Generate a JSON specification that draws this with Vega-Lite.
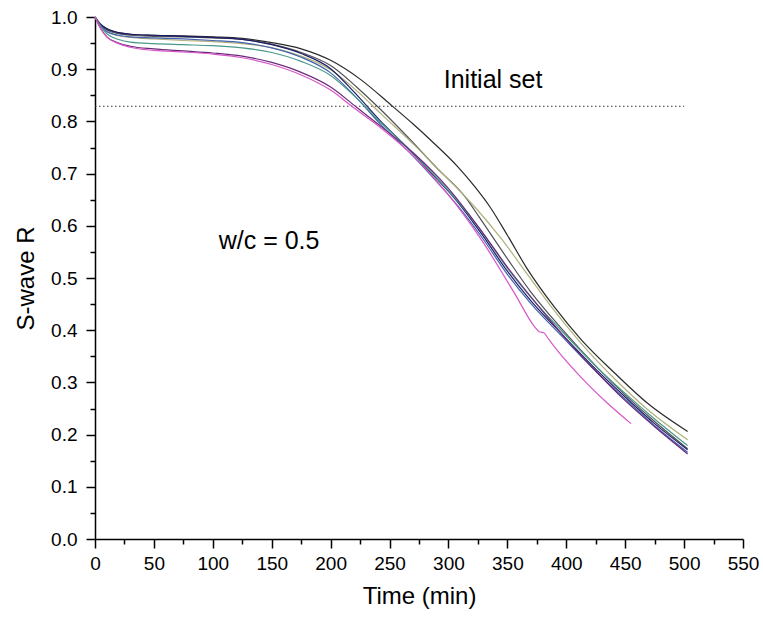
{
  "$schema": "https://vega.github.io/schema/vega-lite/v6.json",
  "width": 648,
  "height": 522,
  "autosize": {"type": "none"},
  "padding": {"left": 95, "top": 17, "right": 20, "bottom": 82},
  "background": "white",
  "config": {
    "view": {"stroke": null},
    "font": "Liberation Sans",
    "axis": {"grid": false, "domainColor": "black", "domainWidth": 1.5, "tickColor": "black", "tickWidth": 1.5, "labelColor": "black", "titleColor": "black", "labelFont": "Liberation Sans", "titleFont": "Liberation Sans", "labelFontSize": 19, "titleFontSize": 24, "titleFontWeight": "normal"}
  },
  "resolve": {"axis": {"x": "independent", "y": "independent"}},
  "datasets": {
    "curves": [
      {"s": "S1", "t": 0, "r": 1.0}, {"s": "S1", "t": 5, "r": 0.986}, {"s": "S1", "t": 10, "r": 0.978}, {"s": "S1", "t": 20, "r": 0.97}, {"s": "S1", "t": 30, "r": 0.967}, {"s": "S1", "t": 50, "r": 0.965}, {"s": "S1", "t": 75, "r": 0.964}, {"s": "S1", "t": 100, "r": 0.962}, {"s": "S1", "t": 125, "r": 0.959}, {"s": "S1", "t": 150, "r": 0.951}, {"s": "S1", "t": 175, "r": 0.939}, {"s": "S1", "t": 200, "r": 0.917}, {"s": "S1", "t": 225, "r": 0.881}, {"s": "S1", "t": 251, "r": 0.832}, {"s": "S1", "t": 270, "r": 0.795}, {"s": "S1", "t": 285, "r": 0.764}, {"s": "S1", "t": 308, "r": 0.713}, {"s": "S1", "t": 322, "r": 0.676}, {"s": "S1", "t": 335, "r": 0.637}, {"s": "S1", "t": 350, "r": 0.582}, {"s": "S1", "t": 367, "r": 0.517}, {"s": "S1", "t": 390, "r": 0.444}, {"s": "S1", "t": 413, "r": 0.381}, {"s": "S1", "t": 441, "r": 0.318}, {"s": "S1", "t": 469, "r": 0.26}, {"s": "S1", "t": 503, "r": 0.206},
      {"s": "S2", "t": 0, "r": 1.0}, {"s": "S2", "t": 5, "r": 0.985}, {"s": "S2", "t": 10, "r": 0.975}, {"s": "S2", "t": 20, "r": 0.968}, {"s": "S2", "t": 30, "r": 0.965}, {"s": "S2", "t": 50, "r": 0.963}, {"s": "S2", "t": 75, "r": 0.962}, {"s": "S2", "t": 100, "r": 0.96}, {"s": "S2", "t": 125, "r": 0.957}, {"s": "S2", "t": 150, "r": 0.948}, {"s": "S2", "t": 175, "r": 0.932}, {"s": "S2", "t": 200, "r": 0.907}, {"s": "S2", "t": 222, "r": 0.866}, {"s": "S2", "t": 240, "r": 0.828}, {"s": "S2", "t": 265, "r": 0.771}, {"s": "S2", "t": 290, "r": 0.711}, {"s": "S2", "t": 315, "r": 0.653}, {"s": "S2", "t": 326, "r": 0.617}, {"s": "S2", "t": 350, "r": 0.537}, {"s": "S2", "t": 370, "r": 0.473}, {"s": "S2", "t": 396, "r": 0.403}, {"s": "S2", "t": 427, "r": 0.327}, {"s": "S2", "t": 450, "r": 0.276}, {"s": "S2", "t": 475, "r": 0.225}, {"s": "S2", "t": 503, "r": 0.173},
      {"s": "S3", "t": 0, "r": 1.0}, {"s": "S3", "t": 5, "r": 0.983}, {"s": "S3", "t": 10, "r": 0.972}, {"s": "S3", "t": 20, "r": 0.964}, {"s": "S3", "t": 30, "r": 0.961}, {"s": "S3", "t": 50, "r": 0.958}, {"s": "S3", "t": 75, "r": 0.955}, {"s": "S3", "t": 100, "r": 0.953}, {"s": "S3", "t": 125, "r": 0.949}, {"s": "S3", "t": 150, "r": 0.941}, {"s": "S3", "t": 175, "r": 0.925}, {"s": "S3", "t": 200, "r": 0.899}, {"s": "S3", "t": 222, "r": 0.859}, {"s": "S3", "t": 243, "r": 0.814}, {"s": "S3", "t": 270, "r": 0.757}, {"s": "S3", "t": 299, "r": 0.691}, {"s": "S3", "t": 322, "r": 0.637}, {"s": "S3", "t": 345, "r": 0.575}, {"s": "S3", "t": 367, "r": 0.507}, {"s": "S3", "t": 390, "r": 0.437}, {"s": "S3", "t": 413, "r": 0.374}, {"s": "S3", "t": 441, "r": 0.307}, {"s": "S3", "t": 469, "r": 0.248}, {"s": "S3", "t": 503, "r": 0.19},
      {"s": "S4", "t": 0, "r": 1.0}, {"s": "S4", "t": 5, "r": 0.985}, {"s": "S4", "t": 10, "r": 0.977}, {"s": "S4", "t": 20, "r": 0.97}, {"s": "S4", "t": 30, "r": 0.967}, {"s": "S4", "t": 50, "r": 0.965}, {"s": "S4", "t": 75, "r": 0.963}, {"s": "S4", "t": 100, "r": 0.961}, {"s": "S4", "t": 125, "r": 0.957}, {"s": "S4", "t": 150, "r": 0.947}, {"s": "S4", "t": 175, "r": 0.93}, {"s": "S4", "t": 200, "r": 0.901}, {"s": "S4", "t": 220, "r": 0.856}, {"s": "S4", "t": 243, "r": 0.799}, {"s": "S4", "t": 265, "r": 0.75}, {"s": "S4", "t": 285, "r": 0.702}, {"s": "S4", "t": 308, "r": 0.645}, {"s": "S4", "t": 328, "r": 0.585}, {"s": "S4", "t": 350, "r": 0.513}, {"s": "S4", "t": 370, "r": 0.456}, {"s": "S4", "t": 396, "r": 0.393}, {"s": "S4", "t": 427, "r": 0.321}, {"s": "S4", "t": 450, "r": 0.272}, {"s": "S4", "t": 475, "r": 0.221}, {"s": "S4", "t": 503, "r": 0.171},
      {"s": "S5", "t": 0, "r": 1.0}, {"s": "S5", "t": 5, "r": 0.983}, {"s": "S5", "t": 10, "r": 0.972}, {"s": "S5", "t": 20, "r": 0.965}, {"s": "S5", "t": 30, "r": 0.962}, {"s": "S5", "t": 50, "r": 0.96}, {"s": "S5", "t": 75, "r": 0.958}, {"s": "S5", "t": 100, "r": 0.955}, {"s": "S5", "t": 125, "r": 0.951}, {"s": "S5", "t": 150, "r": 0.941}, {"s": "S5", "t": 175, "r": 0.923}, {"s": "S5", "t": 200, "r": 0.893}, {"s": "S5", "t": 220, "r": 0.85}, {"s": "S5", "t": 243, "r": 0.793}, {"s": "S5", "t": 265, "r": 0.745}, {"s": "S5", "t": 285, "r": 0.697}, {"s": "S5", "t": 308, "r": 0.638}, {"s": "S5", "t": 328, "r": 0.579}, {"s": "S5", "t": 350, "r": 0.507}, {"s": "S5", "t": 370, "r": 0.451}, {"s": "S5", "t": 396, "r": 0.389}, {"s": "S5", "t": 427, "r": 0.317}, {"s": "S5", "t": 450, "r": 0.268}, {"s": "S5", "t": 475, "r": 0.217}, {"s": "S5", "t": 503, "r": 0.166},
      {"s": "S6", "t": 0, "r": 1.0}, {"s": "S6", "t": 5, "r": 0.981}, {"s": "S6", "t": 10, "r": 0.968}, {"s": "S6", "t": 20, "r": 0.957}, {"s": "S6", "t": 30, "r": 0.952}, {"s": "S6", "t": 50, "r": 0.949}, {"s": "S6", "t": 75, "r": 0.947}, {"s": "S6", "t": 100, "r": 0.945}, {"s": "S6", "t": 125, "r": 0.941}, {"s": "S6", "t": 150, "r": 0.932}, {"s": "S6", "t": 175, "r": 0.915}, {"s": "S6", "t": 200, "r": 0.888}, {"s": "S6", "t": 220, "r": 0.849}, {"s": "S6", "t": 243, "r": 0.797}, {"s": "S6", "t": 265, "r": 0.75}, {"s": "S6", "t": 285, "r": 0.704}, {"s": "S6", "t": 308, "r": 0.647}, {"s": "S6", "t": 328, "r": 0.59}, {"s": "S6", "t": 350, "r": 0.519}, {"s": "S6", "t": 370, "r": 0.463}, {"s": "S6", "t": 396, "r": 0.399}, {"s": "S6", "t": 427, "r": 0.327}, {"s": "S6", "t": 450, "r": 0.279}, {"s": "S6", "t": 475, "r": 0.23}, {"s": "S6", "t": 503, "r": 0.179},
      {"s": "S7", "t": 0, "r": 1.0}, {"s": "S7", "t": 5, "r": 0.977}, {"s": "S7", "t": 10, "r": 0.962}, {"s": "S7", "t": 20, "r": 0.95}, {"s": "S7", "t": 30, "r": 0.944}, {"s": "S7", "t": 50, "r": 0.939}, {"s": "S7", "t": 75, "r": 0.935}, {"s": "S7", "t": 100, "r": 0.931}, {"s": "S7", "t": 125, "r": 0.925}, {"s": "S7", "t": 150, "r": 0.913}, {"s": "S7", "t": 175, "r": 0.894}, {"s": "S7", "t": 200, "r": 0.866}, {"s": "S7", "t": 222, "r": 0.827}, {"s": "S7", "t": 243, "r": 0.79}, {"s": "S7", "t": 271, "r": 0.738}, {"s": "S7", "t": 299, "r": 0.674}, {"s": "S7", "t": 328, "r": 0.59}, {"s": "S7", "t": 350, "r": 0.521}, {"s": "S7", "t": 375, "r": 0.45}, {"s": "S7", "t": 400, "r": 0.383}, {"s": "S7", "t": 427, "r": 0.317}, {"s": "S7", "t": 450, "r": 0.265}, {"s": "S7", "t": 475, "r": 0.215}, {"s": "S7", "t": 503, "r": 0.163},
      {"s": "S8", "t": 0, "r": 1.0}, {"s": "S8", "t": 5, "r": 0.977}, {"s": "S8", "t": 10, "r": 0.962}, {"s": "S8", "t": 20, "r": 0.949}, {"s": "S8", "t": 30, "r": 0.942}, {"s": "S8", "t": 50, "r": 0.936}, {"s": "S8", "t": 75, "r": 0.933}, {"s": "S8", "t": 100, "r": 0.929}, {"s": "S8", "t": 125, "r": 0.922}, {"s": "S8", "t": 150, "r": 0.909}, {"s": "S8", "t": 175, "r": 0.889}, {"s": "S8", "t": 200, "r": 0.86}, {"s": "S8", "t": 219, "r": 0.827}, {"s": "S8", "t": 243, "r": 0.787}, {"s": "S8", "t": 271, "r": 0.732}, {"s": "S8", "t": 299, "r": 0.662}, {"s": "S8", "t": 328, "r": 0.573}, {"s": "S8", "t": 356, "r": 0.471}, {"s": "S8", "t": 373, "r": 0.407}, {"s": "S8", "t": 377, "r": 0.397}, {"s": "S8", "t": 381, "r": 0.395}, {"s": "S8", "t": 384, "r": 0.386}, {"s": "S8", "t": 390, "r": 0.368}, {"s": "S8", "t": 412, "r": 0.311}, {"s": "S8", "t": 435, "r": 0.26}, {"s": "S8", "t": 455, "r": 0.221}
    ],
    "refline": [{"t0": 0, "t1": 500, "r": 0.829}],
    "notes": [
      {"t": 296, "r": 0.879, "label": "Initial set"},
      {"t": 105, "r": 0.571, "label": "w/c = 0.5"}
    ]
  },
  "layer": [
    {
      "data": {"name": "refline"},
      "mark": {"type": "rule", "color": "#333333", "strokeWidth": 1, "strokeDash": [1.5, 2.5]},
      "encoding": {
        "x": {
          "field": "t0", "type": "quantitative", "scale": {"domain": [0, 550], "nice": false},
          "axis": {"orient": "bottom", "title": null, "labels": false, "domain": false, "ticks": true, "tickSize": 5, "values": [25, 75, 125, 175, 225, 275, 325, 375, 425, 475, 525]}
        },
        "x2": {"field": "t1"},
        "y": {
          "field": "r", "type": "quantitative", "scale": {"domain": [0, 1], "nice": false},
          "axis": {"orient": "left", "title": null, "labels": false, "domain": false, "ticks": true, "tickSize": 5, "values": [0.05, 0.15, 0.25, 0.35, 0.45, 0.55, 0.65, 0.75, 0.85, 0.95]}
        }
      }
    },
    {
      "data": {"name": "curves"},
      "mark": {"type": "line", "strokeWidth": 1.2, "interpolate": "monotone"},
      "encoding": {
        "x": {
          "field": "t", "type": "quantitative",
          "scale": {"domain": [0, 550], "nice": false},
          "axis": {
            "orient": "bottom", "title": "Time (min)", "titlePadding": 11,
            "values": [0, 50, 100, 150, 200, 250, 300, 350, 400, 450, 500, 550],
            "ticks": true, "tickSize": 9, "labelPadding": 6, "labelFlush": false
          }
        },
        "y": {
          "field": "r", "type": "quantitative",
          "scale": {"domain": [0, 1], "nice": false},
          "axis": {
            "orient": "left", "title": "S-wave R", "titlePadding": 12,
            "values": [0, 0.1, 0.2, 0.3, 0.4, 0.5, 0.6, 0.7, 0.8, 0.9, 1.0],
            "format": ".1f",
            "ticks": true, "tickSize": 9, "labelPadding": 9, "labelFlush": false
          }
        },
        "color": {
          "field": "s", "type": "nominal", "legend": null,
          "scale": {
            "domain": ["S1", "S2", "S3", "S4", "S5", "S6", "S7", "S8"],
            "range": ["#2a2a2a", "#505058", "#b0b07a", "#1c1c66", "#4262b0", "#4a9a8a", "#6a2a7a", "#d856c8"]
          }
        }
      }
    },
    {
      "data": {"name": "notes"},
      "mark": {"type": "text", "align": "left", "baseline": "middle", "fontSize": 25, "font": "Liberation Sans", "color": "black"},
      "encoding": {
        "x": {"field": "t", "type": "quantitative", "axis": null},
        "y": {"field": "r", "type": "quantitative", "axis": null},
        "text": {"field": "label"}
      }
    }
  ]
}
